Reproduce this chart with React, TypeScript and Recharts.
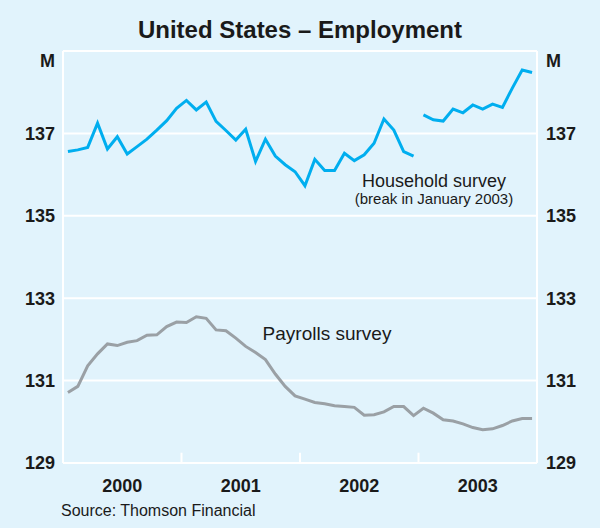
import { CartesianGrid, Line, LineChart, ReferenceLine, XAxis, YAxis } from "recharts";

const YEARS = ["2000", "2001", "2002", "2003"];
const YEAR_CENTRES = [6, 18, 30, 42];
const YEAR_BREAKS = [12, 24, 36];
const Y_TICKS = [129, 131, 133, 135, 137, 139];

// Household survey, Jan 2000 - Dec 2002 (old basis), millions
const householdOld = [
  136.56, 136.6, 136.66, 137.25, 136.62, 136.92, 136.5, 136.68, 136.86, 137.08, 137.31, 137.61,
  137.8, 137.57, 137.76, 137.29, 137.07, 136.84, 137.1, 136.32, 136.86, 136.45, 136.24, 136.07,
  135.73, 136.37, 136.1, 136.1, 136.52, 136.34, 136.48, 136.76, 137.35, 137.08, 136.56, 136.45,
];
// Household survey, Jan 2003 - Dec 2003 (after the break)
const householdNew = [
  137.45, 137.33, 137.3, 137.59, 137.5, 137.69, 137.59, 137.71, 137.63, 138.1, 138.54, 138.48,
];
// Payrolls survey, Jan 2000 - Dec 2003
const payrolls = [
  130.71, 130.86, 131.36, 131.65, 131.89, 131.85, 131.93, 131.97, 132.1, 132.11, 132.31, 132.42,
  132.41, 132.55, 132.51, 132.23, 132.21, 132.03, 131.83, 131.68, 131.51, 131.16, 130.86, 130.63,
  130.55, 130.47, 130.44, 130.39, 130.37, 130.35, 130.16, 130.17, 130.24, 130.37, 130.37, 130.15,
  130.33, 130.21, 130.05, 130.02, 129.95, 129.86, 129.81, 129.83, 129.91, 130.02, 130.08, 130.08,
];

const BG = "#e1f3fc";
const BLUE = "#00aeef";
const GREY = "#9aa0a5";
const INK = "#1a1a1a";
const FONT = "'Liberation Sans', Arial, Helvetica, sans-serif";

const data = payrolls.map((p, i) => ({
  t: i + 0.5,
  hhOld: i < householdOld.length ? householdOld[i] : null,
  hhNew: i >= householdOld.length ? householdNew[i - householdOld.length] : null,
  payrolls: p,
}));

const YTick = ({ x, y, payload, anchor }: any) => {
  const isTop = payload.value === 139;
  return (
    <text
      x={x}
      y={y + (isTop ? 10 : 0)}
      dy="0.355em"
      textAnchor={anchor}
      fontFamily={FONT}
      fontSize={18}
      fontWeight={700}
      fill={INK}
    >
      {isTop ? "M" : payload.value}
    </text>
  );
};

const YearTick = ({ x, y, payload }: any) => (
  <text x={x} y={y + 29} textAnchor="middle" fontFamily={FONT} fontSize={18} fontWeight={700} fill={INK}>
    {YEARS[YEAR_CENTRES.indexOf(payload.value)]}
  </text>
);

export default function App() {
  return (
    <div style={{ position: "absolute", left: 0, top: 0, width: 600, height: 528, background: BG }}>
      <LineChart width={600} height={528} data={data} margin={{ top: 51, right: 8, bottom: 35, left: 8 }}>
        <CartesianGrid horizontal vertical={false} stroke="#ffffff" strokeWidth={2} yAxisId="left" />
        <XAxis
          dataKey="t"
          type="number"
          domain={[0, 48]}
          ticks={YEAR_CENTRES}
          tick={<YearTick />}
          tickSize={0}
          tickMargin={0}
          tickLine={false}
          axisLine={{ stroke: "#ffffff", strokeWidth: 2 }}
          height={30}
          allowDataOverflow
        />
        <YAxis
          yAxisId="left"
          domain={[129, 139]}
          ticks={Y_TICKS}
          tick={<YTick anchor="end" />}
          tickSize={0}
          tickMargin={8}
          tickLine={false}
          axisLine={{ stroke: "#ffffff", strokeWidth: 2 }}
          width={55}
          interval={0}
        />
        <YAxis
          yAxisId="right"
          orientation="right"
          domain={[129, 139]}
          ticks={Y_TICKS}
          tick={<YTick anchor="start" />}
          tickSize={0}
          tickMargin={9}
          tickLine={false}
          axisLine={{ stroke: "#ffffff", strokeWidth: 2 }}
          width={55}
          interval={0}
        />
        {YEAR_BREAKS.map((b) => (
          <ReferenceLine
            key={b}
            yAxisId="left"
            segment={[
              { x: b, y: 129 },
              { x: b, y: 129.25 },
            ]}
            stroke="#ffffff"
            strokeWidth={2}
          />
        ))}
        <Line
          yAxisId="right"
          type="linear"
          dataKey="payrolls"
          stroke={GREY}
          strokeWidth={3}
          dot={false}
          isAnimationActive={false}
        />
        <Line
          yAxisId="left"
          type="linear"
          dataKey="hhOld"
          stroke={BLUE}
          strokeWidth={3}
          dot={false}
          isAnimationActive={false}
        />
        <Line
          yAxisId="left"
          type="linear"
          dataKey="hhNew"
          stroke={BLUE}
          strokeWidth={3}
          dot={false}
          isAnimationActive={false}
        />
      </LineChart>
      <svg
        width={600}
        height={528}
        style={{ position: "absolute", left: 0, top: 0, pointerEvents: "none" }}
        fontFamily={FONT}
        fill={INK}
      >
        <text x={300} y={37.5} textAnchor="middle" fontSize={24} fontWeight={700}>
          United States – Employment
        </text>
        <text x={434} y={186.5} textAnchor="middle" fontSize={18}>
          Household survey
        </text>
        <text x={434} y={204} textAnchor="middle" fontSize={15}>
          (break in January 2003)
        </text>
        <text x={327} y={340} textAnchor="middle" fontSize={19}>
          Payrolls survey
        </text>
        <text x={61} y={516} fontSize={16}>
          Source: Thomson Financial
        </text>
      </svg>
    </div>
  );
}
